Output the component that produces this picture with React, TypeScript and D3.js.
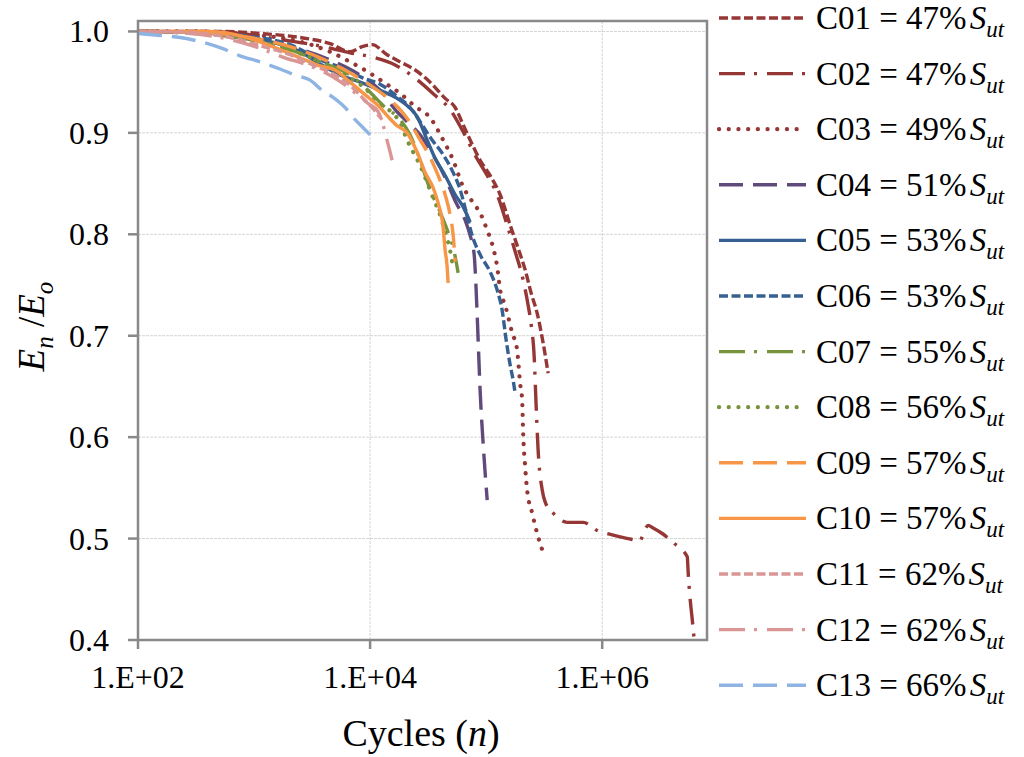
import React from 'react';
import * as d3 from 'd3';

type Pt = [number, number];

// [cycles n, En/Eo]
const c01: Pt[] = [[100,1.0],[230,1.0],[509,1.0],[1127,0.998],[2493,0.994],[4519,0.988],[6722,0.980],[8534,0.985],[10405,0.987],[14020,0.977],[18140,0.970],[24450,0.962],[32890,0.950],[44340,0.934],[54070,0.925],[63390,0.908],[72780,0.893],[88720,0.873],[108200,0.858],[132100,0.839],[161100,0.809],[188800,0.786],[216800,0.765],[244300,0.742],[275400,0.722],[309700,0.693],[342000,0.663]];
const c02: Pt[] = [[100,1.0],[342,1.0],[757,0.998],[1675,0.992],[3228,0.987],[6722,0.979],[11040,0.974],[16430,0.967],[24450,0.954],[36300,0.937],[48950,0.923],[62100,0.903],[80350,0.878],[102100,0.858],[124500,0.839],[151700,0.809],[177800,0.783],[208400,0.755],[230100,0.730],[244300,0.711],[259400,0.679],[269800,0.630],[280500,0.587],[304100,0.548],[322800,0.536],[378400,0.525],[498900,0.516],[685500,0.516],[905700,0.508],[1294000,0.503],[1675000,0.500],[2128000,0.498],[2254000,0.505],[2494000,0.513],[2698000,0.511],[3289000,0.505],[4093000,0.496],[5408000,0.482],[5510000,0.466],[5740000,0.439],[5973000,0.420],[6209000,0.400]];
const c03: Pt[] = [[100,1.0],[342,1.0],[924,0.997],[2493,0.990],[4519,0.980],[6722,0.970],[9612,0.960],[13460,0.949],[18140,0.939],[24450,0.926],[32890,0.915],[42560,0.893],[51980,0.873],[62100,0.849],[77270,0.831],[88720,0.821],[102100,0.804],[114800,0.787],[124500,0.768],[132100,0.745],[145900,0.730],[167500,0.703],[184900,0.686],[196300,0.653],[204200,0.637],[208400,0.604],[216800,0.571],[225400,0.548],[249500,0.525],[275400,0.505],[304100,0.489]];
const c04: Pt[] = [[100,1.0],[342,0.999],[924,0.994],[2043,0.985],[4519,0.972],[8203,0.957],[12190,0.942],[16430,0.923],[20840,0.911],[26980,0.898],[34210,0.880],[44340,0.856],[55080,0.831],[65920,0.814],[72780,0.799],[78830,0.780],[82000,0.745],[85310,0.696],[88720,0.646],[94190,0.594],[102100,0.538]];
const c05: Pt[] = [[100,1.0],[342,0.999],[757,0.995],[1375,0.990],[2493,0.980],[3707,0.968],[5510,0.957],[8203,0.950],[12190,0.942],[17100,0.934],[21270,0.926],[25430,0.916],[30990,0.893],[36300,0.875],[44340,0.858],[54070,0.839],[63390,0.827],[72780,0.812]];
const c06: Pt[] = [[100,1.0],[342,0.999],[924,0.995],[2043,0.987],[3707,0.972],[6335,0.962],[8707,0.954],[12190,0.948],[17100,0.936],[22130,0.925],[26980,0.911],[34210,0.893],[41770,0.880],[50920,0.863],[59700,0.844],[67300,0.822],[75690,0.799],[88720,0.780],[108200,0.763],[124500,0.745],[137400,0.725],[148600,0.696],[161100,0.671],[171000,0.656],[177800,0.643]];
const c07: Pt[] = [[100,1.0],[342,0.998],[924,0.992],[2043,0.982],[3707,0.970],[6722,0.957],[10000,0.940],[12940,0.927],[18140,0.913],[22130,0.898],[26980,0.873],[32890,0.844],[40090,0.822],[46990,0.802],[52970,0.783],[57360,0.762]];
const c08: Pt[] = [[100,1.0],[342,0.998],[924,0.992],[2043,0.982],[3707,0.970],[6085,0.957],[9058,0.944],[12190,0.928],[15480,0.920],[18140,0.910],[20840,0.893],[23500,0.881],[26980,0.868],[30990,0.851],[34900,0.836],[40090,0.819],[45180,0.799],[48950,0.784],[50920,0.773]];
const c09: Pt[] = [[100,1.0],[342,0.999],[924,0.994],[2043,0.985],[3707,0.974],[6085,0.962],[10000,0.947],[14020,0.935],[17430,0.925],[21270,0.913],[26980,0.893],[32890,0.876],[38540,0.858],[44340,0.839],[48950,0.819],[51980,0.799],[54070,0.773]];
const c10: Pt[] = [[100,1.0],[418,1.0],[871,0.994],[1375,0.986],[2493,0.974],[3707,0.966],[4989,0.962],[6722,0.950],[9425,0.936],[11720,0.927],[14020,0.917],[17100,0.907],[20840,0.900],[25430,0.881],[29800,0.861],[34900,0.846],[38540,0.831],[42560,0.807],[44340,0.784],[46110,0.768],[46990,0.752]];
const c11: Pt[] = [[100,1.0],[281,0.999],[621,0.994],[1127,0.986],[2043,0.977],[3357,0.966],[4989,0.957],[6722,0.947],[8534,0.935],[10405,0.925],[12680,0.913]];
const c12: Pt[] = [[100,1.0],[281,0.998],[621,0.992],[1021,0.985],[1849,0.974],[3040,0.966],[4797,0.955],[6460,0.945],[7888,0.937],[9612,0.929],[11720,0.921],[12940,0.908],[13740,0.896],[14590,0.885],[15480,0.873]];
const c13: Pt[] = [[100,0.998],[155,0.996],[230,0.994],[342,0.990],[509,0.984],[757,0.976],[1127,0.970],[1675,0.963],[2256,0.957],[3040,0.952],[3855,0.942],[4797,0.935],[6085,0.925],[7425,0.913],[8707,0.905],[10000,0.898]];

const seriesData: Pt[][] = [c01, c02, c03, c04, c05, c06, c07, c08, c09, c10, c11, c12, c13];
const seriesNames = ['C01','C02','C03','C04','C05','C06','C07','C08','C09','C10','C11','C12','C13'];
const seriesLoads = [47, 47, 49, 51, 53, 53, 55, 56, 57, 57, 62, 62, 66];

const yTicks = [0.4, 0.5, 0.6, 0.7, 0.8, 0.9, 1.0];
const xTicks = [1e2, 1e4, 1e6];
const xTickLabels = ['1.E+02', '1.E+04', '1.E+06'];

// styles
const darkRed = '#953735';
const purple = '#604A7B';
const blue = '#376092';
const green = '#77933C';
const orange = '#F79646';
const pink = '#D99694';
const lightBlue = '#8EB4E3';
const colors = [darkRed, darkRed, darkRed, purple, blue, blue, green, green, orange, orange, pink, pink, lightBlue];
const SQ = 'sq', DD = 'dd', DOT = 'dot', LD = 'ld', SOL = 'sol';
const styles = [SQ, DD, DOT, LD, SOL, SQ, DD, DOT, LD, SOL, SQ, DD, LD];
const dashMap: Record<string, string | undefined> = {
  sq: '9,3.5',
  dd: '26,9,3,10',
  dot: '0.1,9.6',
  ld: '24,10',
  sol: undefined,
};

const FONT = "Liberation Serif, Times New Roman, DejaVu Serif, serif";
const AXIS = '#898989';

const W = 1024, H = 757;
const L = 138, R = 707, T = 21, B = 640;

const sw = (s: string) => (s === DOT ? 4.2 : 3.4);

export default function App() {
  const x = d3.scaleLog().domain([100, 8e6]).range([L, R]);
  const y = d3.scaleLinear().domain([0.4, 1.0103]).range([B, T]);
  const line = d3.line<Pt>().x(d => x(d[0])).y(d => y(d[1])).curve(d3.curveMonotoneX);

  return (
    <svg width={W} height={H} viewBox={`0 0 ${W} ${H}`} style={{ position: 'absolute', left: 0, top: 0, background: '#fff' }}>
      <rect x={0} y={0} width={W} height={H} fill="#fff" />
      <defs>
        <clipPath id="plot"><rect x={L} y={T} width={R - L} height={B - T} /></clipPath>
      </defs>
      {yTicks.filter(t => t > 0.4).map(t => (
        <line key={'gy' + t} x1={L} x2={R} y1={y(t)} y2={y(t)} stroke="#d4d4d4" strokeWidth={1} strokeDasharray="3,1" />
      ))}
      {xTicks.filter(t => t > 100).map(t => (
        <line key={'gx' + t} x1={x(t)} x2={x(t)} y1={T} y2={B} stroke="#d4d4d4" strokeWidth={1} strokeDasharray="3,1" />
      ))}
      <g clipPath="url(#plot)">
        {seriesData.map((d, i) => (
          <path key={seriesNames[i]} d={line(d) || ''} fill="none" stroke={colors[i]}
            strokeWidth={sw(styles[i])}
            strokeDasharray={dashMap[styles[i]]}
            strokeLinecap={styles[i] === DOT ? 'round' : 'butt'}
            strokeLinejoin="round" />
        ))}
      </g>
      <rect x={L} y={T} width={R - L} height={B - T} fill="none" stroke={AXIS} strokeWidth={2.5} />
      {yTicks.map(t => (
        <g key={'ty' + t}>
          <line x1={L - 10} x2={L} y1={y(t)} y2={y(t)} stroke={AXIS} strokeWidth={2.5} />
          <text x={109} y={y(t) + 11} textAnchor="end" fontSize={32} fontFamily={FONT} fill="#000">{t.toFixed(1)}</text>
        </g>
      ))}
      {xTicks.map((t, i) => (
        <g key={'tx' + t}>
          <line x1={x(t)} x2={x(t)} y1={B} y2={B + 9} stroke={AXIS} strokeWidth={2.5} />
          <text x={x(t)} y={688} textAnchor="middle" fontSize={32} fontFamily={FONT} fill="#000">{xTickLabels[i]}</text>
        </g>
      ))}
      <text x={421} y={746} textAnchor="middle" fontSize={38} fontFamily={FONT} fill="#000">
        Cycles (<tspan fontStyle="italic">n</tspan>)
      </text>
      <text transform={`translate(44, ${(T + B) / 2 - 4}) rotate(-90)`} textAnchor="middle" fontSize={37} fontFamily={FONT} fill="#000">
        <tspan fontStyle="italic">E</tspan>
        <tspan fontStyle="italic" fontSize={25} dy={9}>n</tspan>
        <tspan dy={-9}> /</tspan>
        <tspan fontStyle="italic">E</tspan>
        <tspan fontStyle="italic" fontSize={25} dy={9}>o</tspan>
      </text>
      {seriesNames.map((name, i) => {
        const cy = 18 + i * 55.6;
        return (
          <g key={'lg' + name}>
            <line x1={719} x2={806} y1={cy} y2={cy} stroke={colors[i]}
              strokeWidth={sw(styles[i])}
              strokeDasharray={dashMap[styles[i]]}
              strokeLinecap={styles[i] === DOT ? 'round' : 'butt'} />
            <text x={816} y={cy + 11} fontSize={33} fontFamily={FONT} fill="#000">
              {`${name} = ${seriesLoads[i]}%`}
              <tspan fontStyle="italic" dx={3}>S</tspan>
              <tspan fontStyle="italic" fontSize={23} dy={8}>ut</tspan>
            </text>
          </g>
        );
      })}
    </svg>
  );
}
